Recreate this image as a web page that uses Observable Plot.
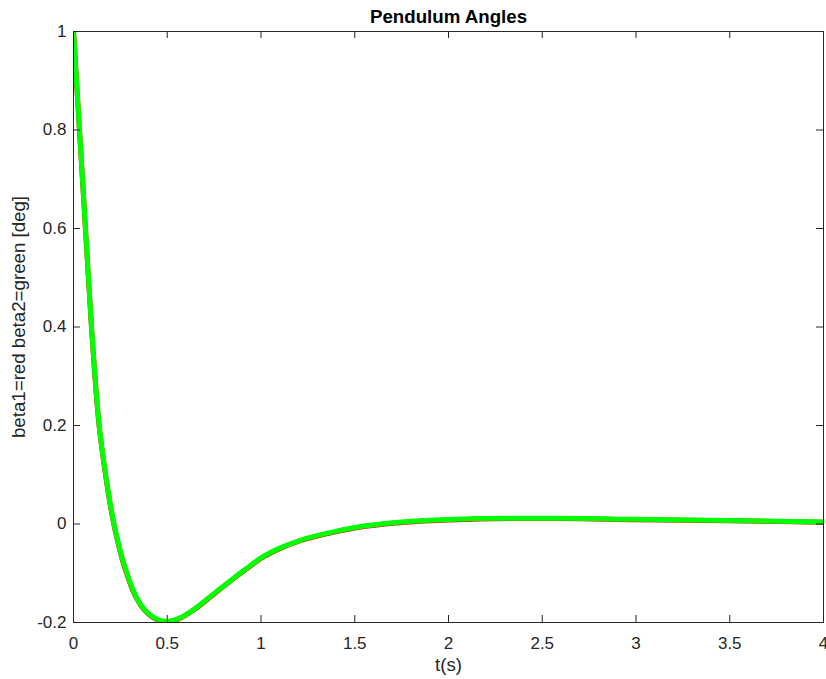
<!DOCTYPE html>
<html>
<head>
<meta charset="utf-8">
<script src="https://cdn.jsdelivr.net/npm/d3@7"></script>
<script src="https://cdn.jsdelivr.net/npm/@observablehq/plot@0.6"></script>
<style>
  html, body { margin: 0; padding: 0; background: #ffffff; }
  #chart { width: 826px; height: 679px; }
</style>
</head>
<body>
<div id="chart"></div>
<script>
const titleText = "Pendulum Angles";
const xLabel = "t(s)";
const yLabel = "beta1=red beta2=green [deg]";

const xTicks = [0, 0.5, 1, 1.5, 2, 2.5, 3, 3.5, 4];
const yTicks = [-0.2, 0, 0.2, 0.4, 0.6, 0.8, 1];

const t = [0, 0.032, 0.064, 0.096, 0.115, 0.137, 0.16, 0.185, 0.216, 0.24, 0.26, 0.285, 0.313, 0.357, 0.40, 0.45, 0.49, 0.53, 0.571, 0.64, 0.75, 0.84, 0.92, 1.0, 1.1, 1.21, 1.35, 1.5, 1.75, 2.0, 2.37, 2.6, 3.0, 3.5, 4.0];
const beta2 = [1.0, 0.8, 0.6, 0.4, 0.297, 0.2, 0.131, 0.066, 0.0, -0.04, -0.07, -0.1, -0.13, -0.163, -0.182, -0.194, -0.198, -0.196, -0.19, -0.174, -0.141, -0.114, -0.091, -0.069, -0.049, -0.033, -0.019, -0.007, 0.004, 0.009, 0.0115, 0.0115, 0.0095, 0.007, 0.004];
const beta1 = [1.0, 0.798, 0.598, 0.398, 0.295, 0.198, 0.129, 0.064, -0.002, -0.042, -0.072, -0.102, -0.132, -0.164, -0.183, -0.195, -0.199, -0.197, -0.191, -0.175, -0.142, -0.115, -0.092, -0.070, -0.050, -0.034, -0.020, -0.008, 0.003, 0.008, 0.011, 0.011, 0.0085, 0.0065, 0.0035];

const rows1 = t.map((v, i) => ({t: v, value: beta1[i]}));
const rows2 = t.map((v, i) => ({t: v, value: beta2[i]}));

const axisColor = "#262626";
const fmt = d => String(d);

const W = 826, H = 679, mL = 73, mR = 3, mT = 31, mB = 57, tickLen = 7;
const innerW = W - mL - mR, innerH = H - mT - mB;

const chart = Plot.plot({
  width: W,
  height: H,
  marginLeft: mL,
  marginRight: mR,
  marginTop: mT,
  marginBottom: mB,
  style: {
    fontFamily: "'Liberation Sans', Arial, Helvetica, sans-serif",
    fontSize: "17px",
    color: axisColor,
    background: "#ffffff"
  },
  x: {domain: [0, 4]},
  y: {domain: [-0.2, 1]},
  marks: [
    Plot.line(rows1, {x: "t", y: "value", stroke: "#ff0000", strokeWidth: 5, curve: "monotone-x", clip: true}),
    Plot.line(rows2, {x: "t", y: "value", stroke: "#00ff00", strokeWidth: 5, curve: "monotone-x", clip: true}),
    Plot.frame({stroke: axisColor, strokeWidth: 1}),
    Plot.ruleX(xTicks, {x: d => d, insetTop: innerH - tickLen, stroke: axisColor, strokeWidth: 1}),
    Plot.ruleX(xTicks, {x: d => d, insetBottom: innerH - tickLen, stroke: axisColor, strokeWidth: 1}),
    Plot.ruleY(yTicks, {y: d => d, insetRight: innerW - tickLen, stroke: axisColor, strokeWidth: 1}),
    Plot.ruleY(yTicks, {y: d => d, insetLeft: innerW - tickLen, stroke: axisColor, strokeWidth: 1}),
    Plot.axisX({anchor: "bottom", ticks: xTicks, tickSize: 0, tickPadding: 14, tickFormat: fmt, label: null, fill: axisColor}),
    Plot.axisY({anchor: "left", ticks: yTicks, tickSize: 0, tickPadding: 7, tickFormat: fmt, label: null, fill: axisColor}),
    Plot.text([titleText], {frameAnchor: "top", dy: -8.5, lineAnchor: "bottom", fontWeight: "bold", fontSize: 18.7, fill: "#000000"}),
    Plot.text([xLabel], {frameAnchor: "bottom", dy: 43, lineAnchor: "middle", fontSize: 18.7, fill: axisColor}),
    Plot.text([yLabel], {frameAnchor: "left", dx: -54, dy: -10, rotate: -90, textAnchor: "middle", lineAnchor: "middle", fontSize: 18.7, fill: axisColor})
  ]
});

document.getElementById("chart").appendChild(chart);
</script>
</body>
</html>
